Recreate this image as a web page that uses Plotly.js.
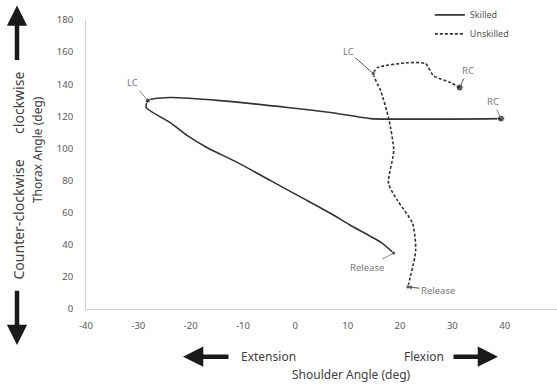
<!DOCTYPE html>
<html>
<head>
<meta charset="utf-8">
<script src="https://cdn.plot.ly/plotly-3.0.1.min.js"></script>
<style>html,body{margin:0;padding:0;background:#fff;}#chart{width:557px;height:388px;}</style>
</head>
<body>
<div id="chart"></div>
<script>
// Skilled: RC -> LC -> Release
const skilledX = [39.3, 14.4, 10.5, 6.7, -1.5, -14.4, -23.9, -28.2, -28.5, -23.9, -20.7, -16.9, -11.1, -4.8, 1.5, 6.7, 10.5, 16.3, 18.8];
const skilledY = [118.6, 118.6, 120.5, 122.4, 125.5, 129.8, 131.7, 129.8, 125.5, 116.1, 108.1, 100.6, 91.3, 80.1, 68.9, 59.6, 52.2, 41.6, 34.8];
// Unskilled: RC -> LC -> Release
const unskilledX = [31.4, 29.7, 26.4, 24.9, 21.5, 15.7, 14.9, 16.3, 17.8, 18.8, 17.8, 19.5, 22.4, 23.0, 21.5];
const unskilledY = [137.9, 141.0, 145.3, 152.8, 153.4, 150.3, 146.6, 136.0, 119.3, 98.8, 78.3, 67.7, 53.4, 36.6, 13.7];
// event indices: RC, LC, Release
const skilledEvents = [0, 7, 18];
const unskilledEvents = [0, 6, 14];
const eventLabels = ["RC", "LC", "Release"];
const xTicks = [-40, -30, -20, -10, 0, 10, 20, 30, 40, 50];
const yTicks = [0, 20, 40, 60, 80, 100, 120, 140, 160, 180];

const lineCol = '#333333';
const labelCol = '#7a7a7a';
const fontFam = '"Noto Sans", "Open Sans", sans-serif';

const traces = [
  {x: skilledX, y: skilledY, mode: 'lines', name: 'Skilled',
   line: {color: lineCol, width: 1.6, shape: 'spline', smoothing: 0.6}},
  {x: unskilledX, y: unskilledY, mode: 'lines', name: 'Unskilled',
   line: {color: lineCol, width: 1.6, dash: '3px,2px', shape: 'spline', smoothing: 0.6}},
  {x: skilledEvents.map(i => skilledX[i]), y: skilledEvents.map(i => skilledY[i]),
   mode: 'markers', showlegend: false, hoverinfo: 'skip',
   marker: {color: '#111', size: [7, 5, 4]}},
  {x: unskilledEvents.map(i => unskilledX[i]), y: unskilledEvents.map(i => unskilledY[i]),
   mode: 'markers', showlegend: false, hoverinfo: 'skip',
   marker: {color: '#111', size: [7, 4, 4]}}
];

// label offsets (pixels) - style only
const sOff = [[-8, -17], [-15, -18], [-27, 14]];
const uOff = [[8, -17], [-25, -22], [30, 3]];
const annotations = [];
skilledEvents.forEach((idx, k) => {
  annotations.push({x: skilledX[idx], y: skilledY[idx], xref: 'x', yref: 'y',
    text: eventLabels[k], showarrow: true, arrowhead: 0, arrowwidth: 1, arrowcolor: '#888',
    ax: sOff[k][0], ay: sOff[k][1], font: {size: 9.5, color: labelCol, family: fontFam}});
});
unskilledEvents.forEach((idx, k) => {
  annotations.push({x: unskilledX[idx], y: unskilledY[idx], xref: 'x', yref: 'y',
    text: eventLabels[k], showarrow: true, arrowhead: k === 2 ? 2 : 0, arrowsize: 0.8, arrowwidth: 1, arrowcolor: '#555',
    ax: uOff[k][0], ay: uOff[k][1], font: {size: 9.5, color: labelCol, family: fontFam}});
});

// axis titles and direction arrows (paper coordinates)
const tcol = '#404040';
annotations.push(
  {xref: 'paper', yref: 'paper', x: 0.0, y: -0.228, xanchor: 'center', yanchor: 'middle',
   text: 'Shoulder Angle (deg)', showarrow: false, font: {size: 12, color: tcol, family: fontFam}, xshift: 265},
  {xref: 'paper', yref: 'paper', x: 0, y: -0.165, xanchor: 'left', yanchor: 'middle',
   text: 'Extension', showarrow: false, font: {size: 12, color: tcol, family: fontFam}, xshift: 153},
  {xref: 'paper', yref: 'paper', x: 0, y: -0.165, xanchor: 'left', yanchor: 'middle',
   text: 'Flexion', showarrow: false, font: {size: 12, color: tcol, family: fontFam}, xshift: 316},
  // x arrows
  {xref: 'paper', yref: 'paper', x: 0, y: -0.165, xshift: 97, ax: 47, ay: 0, text: '',
   showarrow: true, arrowhead: 2, arrowsize: 0.9, arrowwidth: 4.5, arrowcolor: '#1a1a1a'},
  {xref: 'paper', yref: 'paper', x: 0, y: -0.165, xshift: 412, ax: -46, ay: 0, text: '',
   showarrow: true, arrowhead: 2, arrowsize: 0.9, arrowwidth: 4.5, arrowcolor: '#1a1a1a'},
  // y titles
  {xref: 'paper', yref: 'paper', x: 0, y: 0.462, xshift: -68, xanchor: 'center', yanchor: 'middle', textangle: -90,
   text: 'Counter-clockwise&nbsp;&nbsp;&nbsp;&nbsp;&nbsp;&nbsp;&nbsp;clockwise', showarrow: false,
   font: {size: 14, color: tcol, family: fontFam}},
  {xref: 'paper', yref: 'paper', x: 0, y: 0.55, xshift: -49, xanchor: 'center', yanchor: 'middle', textangle: -90,
   text: 'Thorax Angle (deg)', showarrow: false,
   font: {size: 12, color: tcol, family: fontFam}},
  // y arrows
  {xref: 'paper', yref: 'paper', x: 0, y: 1.05, xshift: -69, ax: 0, ay: 56, text: '',
   showarrow: true, arrowhead: 2, arrowsize: 0.9, arrowwidth: 4.5, arrowcolor: '#1a1a1a'},
  {xref: 'paper', yref: 'paper', x: 0, y: -0.125, xshift: -69, ax: 0, ay: -56, text: '',
   showarrow: true, arrowhead: 2, arrowsize: 0.9, arrowwidth: 4.5, arrowcolor: '#1a1a1a'}
);

const layout = {
  width: 557, height: 388,
  margin: {l: 86, r: 0, t: 20, b: 79},
  paper_bgcolor: '#fff', plot_bgcolor: '#fff',
  font: {family: fontFam, color: '#595959', size: 9.5},
  showlegend: true,
  legend: {x: 0.73, xanchor: 'left', y: 1.068, yanchor: 'top', bgcolor: 'rgba(0,0,0,0)',
           itemwidth: 30, font: {size: 9, color: '#555', family: fontFam}, tracegroupgap: 0},
  xaxis: {range: [-40, 50], tickvals: xTicks, ticktext: xTicks.map(String), showgrid: false,
          zeroline: false, showline: true, linecolor: '#d0d0d0', linewidth: 1, ticks: '',
          ticklabelstandoff: 8, tickfont: {size: 9.5, color: '#595959'}, fixedrange: true},
  yaxis: {range: [0, 180], tickvals: yTicks, ticktext: yTicks.map(String), showgrid: false,
          zeroline: false, showline: true, linecolor: '#d0d0d0', linewidth: 1, ticks: '',
          ticklabelstandoff: 10, tickfont: {size: 9.5, color: '#595959'}, fixedrange: true},
  annotations: annotations
};

Plotly.newPlot('chart', traces, layout, {displayModeBar: false, staticPlot: true});
</script>
</body>
</html>
